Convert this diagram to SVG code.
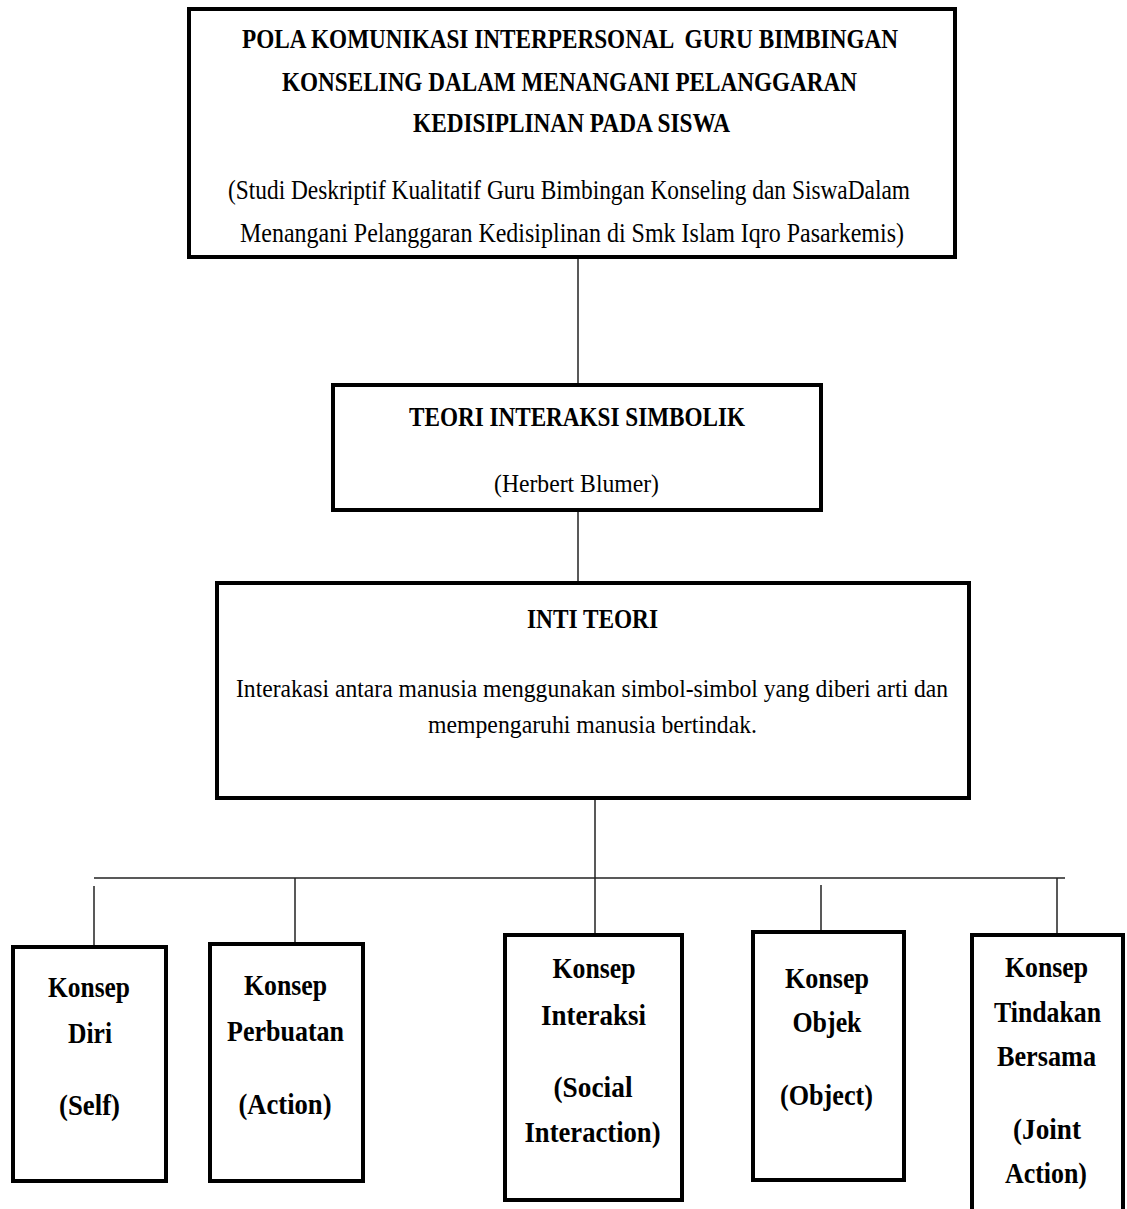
<svg xmlns="http://www.w3.org/2000/svg" width="1127" height="1209" viewBox="0 0 1127 1209">
<style>
.box{fill:#fff;stroke:#000;stroke-width:4}
.conn line{stroke:#222;stroke-width:1.5}
text{font-family:"Liberation Serif","Times New Roman",serif;fill:#000;text-anchor:middle}
.b{font-weight:bold}
.t27{font-size:27px}
.t26{font-size:26px}
.t30{font-size:30px}
</style>
<rect width="1127" height="1209" fill="#fff"/>
<g class="conn">
<line x1="578" y1="259" x2="578" y2="383"/>
<line x1="578" y1="512" x2="578" y2="581"/>
<line x1="595" y1="800" x2="595" y2="933"/>
<line x1="94" y1="878" x2="1065" y2="878"/>
<line x1="94" y1="886" x2="94" y2="945"/>
<line x1="295" y1="878" x2="295" y2="942"/>
<line x1="821" y1="885" x2="821" y2="930"/>
<line x1="1057" y1="878" x2="1057" y2="933"/>
</g>
<g id="judul">
<rect class="box" x="189" y="9" width="766" height="248"/>
<text class="b t27" x="570" y="48" textLength="656" lengthAdjust="spacingAndGlyphs" xml:space="preserve">POLA KOMUNIKASI INTERPERSONAL  GURU BIMBINGAN</text>
<text class="b t27" x="569.5" y="91" textLength="575" lengthAdjust="spacingAndGlyphs">KONSELING DALAM MENANGANI PELANGGARAN</text>
<text class="b t27" x="571.5" y="132" textLength="317" lengthAdjust="spacingAndGlyphs">KEDISIPLINAN PADA SISWA</text>
<text class="t27" x="569" y="199" textLength="682" lengthAdjust="spacingAndGlyphs">(Studi Deskriptif Kualitatif Guru Bimbingan Konseling dan SiswaDalam</text>
<text class="t27" x="572" y="242" textLength="664" lengthAdjust="spacingAndGlyphs">Menangani Pelanggaran Kedisiplinan di Smk Islam Iqro Pasarkemis)</text>
</g>
<g id="teori">
<rect class="box" x="333" y="385" width="488" height="125"/>
<text class="b t27" x="577" y="426" textLength="336" lengthAdjust="spacingAndGlyphs">TEORI INTERAKSI SIMBOLIK</text>
<text class="t26" x="576.5" y="492" textLength="165" lengthAdjust="spacingAndGlyphs">(Herbert Blumer)</text>
</g>
<g id="inti">
<rect class="box" x="217" y="583" width="752" height="215"/>
<text class="b t27" x="592.5" y="628" textLength="131" lengthAdjust="spacingAndGlyphs">INTI TEORI</text>
<text class="t26" x="592" y="697" textLength="712" lengthAdjust="spacingAndGlyphs">Interakasi antara manusia menggunakan simbol-simbol yang diberi arti dan</text>
<text class="t26" x="592.5" y="733" textLength="329" lengthAdjust="spacingAndGlyphs">mempengaruhi manusia bertindak.</text>
</g>
<g id="diri">
<rect class="box" x="13" y="947" width="153" height="234"/>
<text class="b t30" x="89" y="997" textLength="82" lengthAdjust="spacingAndGlyphs">Konsep</text>
<text class="b t30" x="90" y="1043" textLength="44" lengthAdjust="spacingAndGlyphs">Diri</text>
<text class="b t30" x="89.5" y="1115" textLength="61" lengthAdjust="spacingAndGlyphs">(Self)</text>
</g>
<g id="perbuatan">
<rect class="box" x="210" y="944" width="153" height="237"/>
<text class="b t30" x="285.5" y="995" textLength="83" lengthAdjust="spacingAndGlyphs">Konsep</text>
<text class="b t30" x="285.5" y="1041" textLength="117" lengthAdjust="spacingAndGlyphs">Perbuatan</text>
<text class="b t30" x="285" y="1114" textLength="93" lengthAdjust="spacingAndGlyphs">(Action)</text>
</g>
<g id="interaksi">
<rect class="box" x="505" y="935" width="177" height="265"/>
<text class="b t30" x="594" y="978" textLength="83" lengthAdjust="spacingAndGlyphs">Konsep</text>
<text class="b t30" x="593.5" y="1025" textLength="105" lengthAdjust="spacingAndGlyphs">Interaksi</text>
<text class="b t30" x="593" y="1097" textLength="79" lengthAdjust="spacingAndGlyphs">(Social</text>
<text class="b t30" x="592.5" y="1142" textLength="136" lengthAdjust="spacingAndGlyphs">Interaction)</text>
</g>
<g id="objek">
<rect class="box" x="753" y="932" width="151" height="248"/>
<text class="b t30" x="827" y="988" textLength="84" lengthAdjust="spacingAndGlyphs">Konsep</text>
<text class="b t30" x="827" y="1032" textLength="69" lengthAdjust="spacingAndGlyphs">Objek</text>
<text class="b t30" x="826.5" y="1105" textLength="93" lengthAdjust="spacingAndGlyphs">(Object)</text>
</g>
<g id="tindakan">
<rect class="box" x="972" y="935" width="151" height="280"/>
<text class="b t30" x="1046.5" y="977" textLength="83" lengthAdjust="spacingAndGlyphs">Konsep</text>
<text class="b t30" x="1047.5" y="1022" textLength="107" lengthAdjust="spacingAndGlyphs">Tindakan</text>
<text class="b t30" x="1046.5" y="1066" textLength="99" lengthAdjust="spacingAndGlyphs">Bersama</text>
<text class="b t30" x="1047" y="1139" textLength="68" lengthAdjust="spacingAndGlyphs">(Joint</text>
<text class="b t30" x="1046" y="1183" textLength="82" lengthAdjust="spacingAndGlyphs">Action)</text>
</g>
</svg>
